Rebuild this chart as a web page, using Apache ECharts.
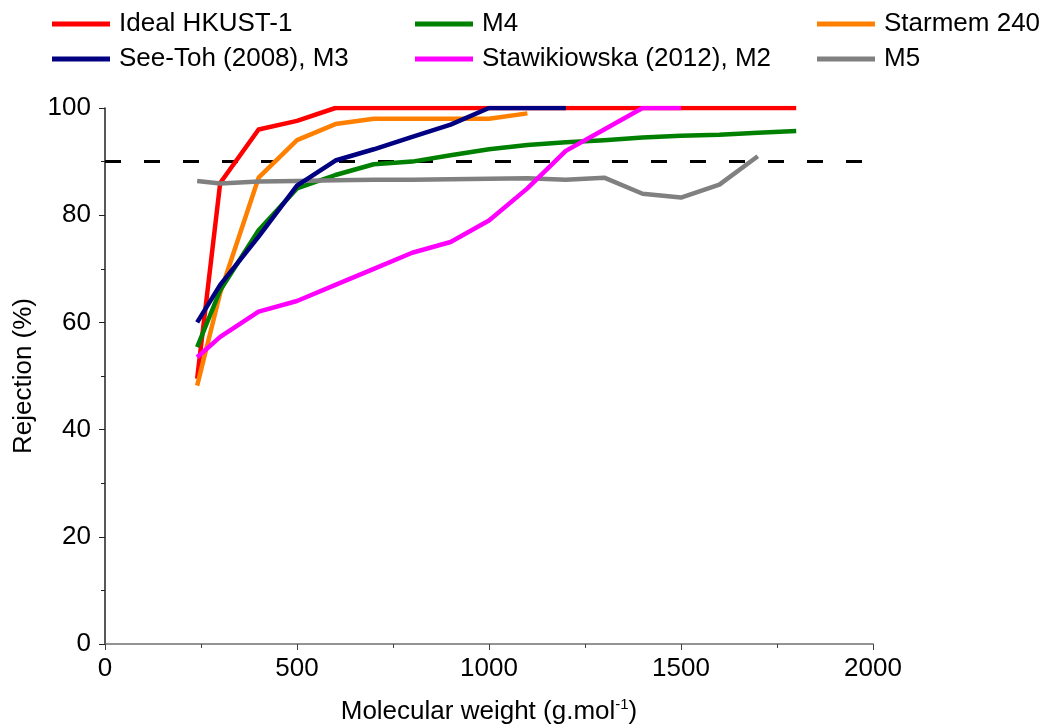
<!DOCTYPE html>
<html>
<head>
<meta charset="utf-8">
<script src="https://cdn.jsdelivr.net/npm/echarts@6/dist/echarts.min.js"></script>
<style>html,body{margin:0;padding:0;background:#fff}#c{width:1056px;height:724px}</style>
</head>
<body>
<div id="c"></div>
<script>
// Data
var idealX = [240, 300, 400, 500, 600, 700, 800, 900, 1000, 1100, 1200, 1300, 1400, 1500, 1600, 1700, 1800];
var idealY = [49.5, 86, 96, 97.6, 100, 100, 100, 100, 100, 100, 100, 100, 100, 100, 100, 100, 100];
var starmemX = [240, 300, 400, 500, 600, 700, 800, 900, 1000, 1100];
var starmemY = [48.2, 65.5, 87, 94, 97, 98, 98, 98, 98, 99];
var m4X = [240, 300, 400, 500, 600, 700, 800, 900, 1000, 1100, 1200, 1300, 1400, 1500, 1600, 1700, 1800];
var m4Y = [55.4, 66, 77.2, 85, 87.5, 89.5, 90, 91.2, 92.3, 93.1, 93.6, 94, 94.5, 94.8, 95, 95.4, 95.7];
var m5X = [240, 300, 400, 500, 600, 700, 800, 900, 1000, 1100, 1200, 1300, 1400, 1500, 1600, 1700];
var m5Y = [86.4, 85.9, 86.3, 86.4, 86.5, 86.6, 86.6, 86.7, 86.8, 86.9, 86.6, 87, 84, 83.3, 85.7, 91];
var seeTohX = [240, 300, 400, 500, 600, 700, 800, 900, 1000, 1100, 1200];
var seeTohY = [60, 67, 76, 85.5, 90.2, 92.3, 94.6, 96.9, 100, 100, 100];
var stawX = [240, 300, 400, 500, 600, 700, 800, 900, 1000, 1100, 1200, 1300, 1400, 1500];
var stawY = [53.5, 57.3, 62, 64, 67, 70, 73, 75, 79, 85, 92, 96, 100, 100];
var thresholdX = [0, 2000];
var thresholdY = [90, 90];
var xTicks = [0, 500, 1000, 1500, 2000];
var yTicks = [0, 20, 40, 60, 80, 100];

function pairs(xs, ys) { return xs.map(function (x, i) { return [x, ys[i]]; }); }

var FONT = '"Liberation Sans", Arial, sans-serif';
var FS = 26;
var chart = echarts.init(document.getElementById('c'), null, { renderer: 'canvas' });

function mkSeries(name, xs, ys, color, z) {
  return {
    name: name, type: 'line', data: pairs(xs, ys), symbol: 'none', z: z,
    lineStyle: { color: color, width: 4.5, join: 'round' }, itemStyle: { color: color },
    animation: false
  };
}
function mkLegend(left, names) {
  return {
    orient: 'vertical', left: left, top: 11, padding: 0, itemGap: 9, itemWidth: 58, itemHeight: 5,
    icon: 'rect', selectedMode: false, data: names,
    textStyle: { fontFamily: FONT, fontSize: FS, lineHeight: 26, color: '#000', padding: [0, 0, 0, 4] }
  };
}

chart.setOption({
  animation: false,
  backgroundColor: '#fff',
  grid: { left: 105, right: 183, top: 108, bottom: 80, containLabel: false, outerBoundsMode: 'none' },
  legend: [
    mkLegend(52, ['Ideal HKUST-1', 'See-Toh (2008), M3']),
    mkLegend(415, ['M4', 'Stawikiowska (2012), M2']),
    mkLegend(817, ['Starmem 240', 'M5'])
  ],
  xAxis: {
    type: 'value', min: xTicks[0], max: xTicks[xTicks.length - 1], interval: 500,
    splitLine: { show: false },
    axisLine: { onZero: false, lineStyle: { color: '#707070', width: 1.5 } },
    axisTick: { show: true, length: 6, lineStyle: { color: '#404040' } },
    minorTick: { show: true, splitNumber: 2, length: 4, lineStyle: { color: '#404040' } },
    axisLabel: { fontFamily: FONT, fontSize: FS, color: '#000', margin: 12, formatter: function (v) { return String(v); } },
    name: '{a|Molecular weight (g.mol}{s|-1}{a|)}',
    nameLocation: 'middle', nameGap: 53,
    nameTextStyle: {
      rich: {
        a: { fontFamily: FONT, fontSize: FS, color: '#000' },
        s: { fontFamily: FONT, fontSize: 15, color: '#000', verticalAlign: 'top', padding: [0, 0, 14, 0] }
      }
    }
  },
  yAxis: {
    type: 'value', min: yTicks[0], max: yTicks[yTicks.length - 1], interval: 20,
    splitLine: { show: false },
    axisLine: { show: true, lineStyle: { color: '#202020', width: 1.5 } },
    axisTick: { show: true, length: 6, lineStyle: { color: '#202020' } },
    minorTick: { show: true, splitNumber: 2, length: 4, lineStyle: { color: '#202020' } },
    axisLabel: { fontFamily: FONT, fontSize: FS, color: '#000', margin: 14 },
    name: 'Rejection (%)', nameLocation: 'middle', nameGap: 68, nameRotate: 90,
    nameTextStyle: { fontFamily: FONT, fontSize: FS, color: '#000' }
  },
  series: [
    {
      name: 'Threshold', type: 'line', data: pairs(thresholdX, thresholdY), symbol: 'none', z: 1,
      lineStyle: { color: '#000', width: 3, type: [16, 23] }, animation: false
    },
    mkSeries('Ideal HKUST-1', idealX, idealY, '#FF0000', 2),
    mkSeries('Starmem 240', starmemX, starmemY, '#FF8000', 3),
    mkSeries('M4', m4X, m4Y, '#008000', 4),
    mkSeries('M5', m5X, m5Y, '#808080', 5),
    mkSeries('See-Toh (2008), M3', seeTohX, seeTohY, '#000080', 6),
    mkSeries('Stawikiowska (2012), M2', stawX, stawY, '#FF00FF', 7)
  ]
});
</script>
</body>
</html>
